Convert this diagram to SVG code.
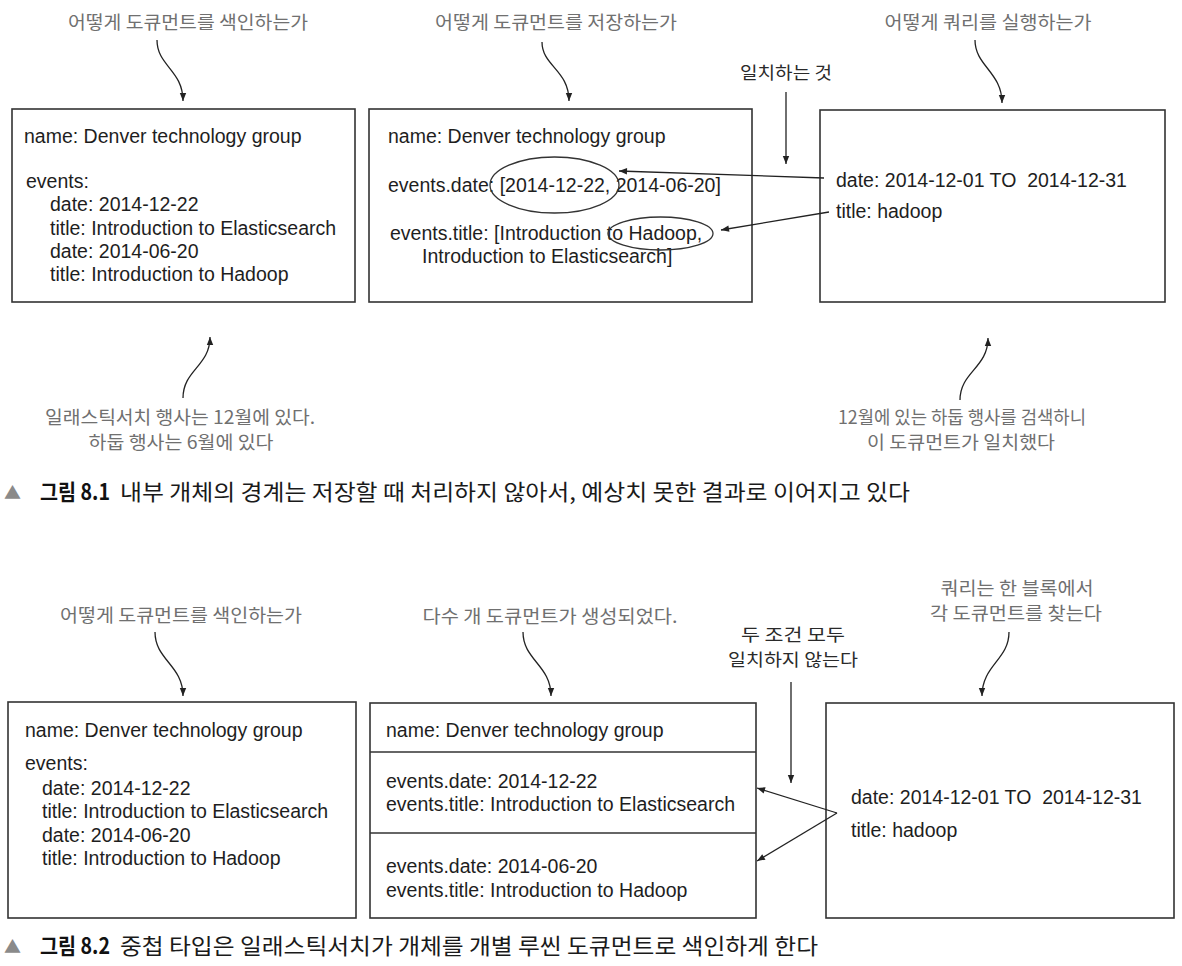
<svg xmlns="http://www.w3.org/2000/svg" width="1182" height="966" viewBox="0 0 1182 966">
<defs>
<style>
.bg{fill:#ffffff}
.box{fill:#ffffff;stroke:#333;stroke-width:1.6}
.div{stroke:#333;stroke-width:1.6;fill:none}
.t{font-family:"Liberation Sans",Arial,sans-serif;font-size:19.5px;fill:#1e1e1e}
.note{font-family:"Noto Sans CJK KR","Noto Sans",sans-serif;font-size:18px;fill:#707070;text-anchor:middle}
.dark{font-family:"Noto Sans CJK KR","Noto Sans",sans-serif;font-size:17px;fill:#2a2a2a;text-anchor:middle}
.cap{font-family:"Noto Sans CJK KR","Noto Sans",sans-serif;font-size:22px;fill:#1a1a1a}
.capb{font-family:"Noto Sans CJK KR","Noto Sans",sans-serif;font-size:22px;font-weight:bold;fill:#111}
.tri{font-family:"Noto Sans CJK KR","DejaVu Sans",sans-serif;font-size:17px;fill:#8a8a8a}
.ln{fill:none;stroke:#222;stroke-width:1.3}
.ell{fill:none;stroke:#333;stroke-width:1.3}
</style>
<marker id="ah" viewBox="0 0 10 10" refX="10" refY="5" markerWidth="10" markerHeight="8" markerUnits="userSpaceOnUse" orient="auto">
<path d="M0,1 L10,5 L0,9 z" fill="#222"/>
</marker>
</defs>
<rect class="bg" x="0" y="0" width="1182" height="966"/>

<!-- Figure 8.1 -->
<g id="fig1-note-index">
<text class="note" x="188" y="29" textLength="240" lengthAdjust="spacingAndGlyphs">어떻게 도큐먼트를 색인하는가</text>
</g>
<g id="fig1-note-store">
<text class="note" x="556" y="29" textLength="242" lengthAdjust="spacingAndGlyphs">어떻게 도큐먼트를 저장하는가</text>
</g>
<g id="fig1-note-query">
<text class="note" x="988" y="29" textLength="207" lengthAdjust="spacingAndGlyphs">어떻게 쿼리를 실행하는가</text>
</g>
<g id="fig1-note-match">
<text class="dark" x="786" y="79" textLength="92" lengthAdjust="spacingAndGlyphs">일치하는 것</text>
</g>

<g id="fig1-doc">
<rect class="box" x="12" y="109" width="343" height="193"/>
<text class="t" x="24" y="143">name: Denver technology group</text>
<text class="t" x="26" y="188">events:</text>
<text class="t" x="50" y="211">date: 2014-12-22</text>
<text class="t" x="50" y="235">title: Introduction to Elasticsearch</text>
<text class="t" x="50" y="258">date: 2014-06-20</text>
<text class="t" x="50" y="281">title: Introduction to Hadoop</text>
</g>

<g id="fig1-stored">
<rect class="box" x="369" y="109" width="383" height="193"/>
<text class="t" x="388" y="143">name: Denver technology group</text>
<text class="t" x="388" y="192">events.date: [2014-12-22, 2014-06-20]</text>
<text class="t" x="390" y="240">events.title: [Introduction to Hadoop,</text>
<text class="t" x="422" y="263">Introduction to Elasticsearch]</text>
<ellipse class="ell" cx="554.5" cy="185" rx="64.5" ry="28"/>
<ellipse class="ell" cx="660.5" cy="233.5" rx="52.5" ry="16.5"/>
</g>

<g id="fig1-query">
<rect class="box" x="820" y="110" width="345" height="192"/>
<text class="t" x="836" y="187" xml:space="preserve">date: 2014-12-01 TO  2014-12-31</text>
<text class="t" x="836" y="218">title: hadoop</text>
</g>

<g id="fig1-note-left">
<text class="note" x="180" y="424" textLength="270" lengthAdjust="spacingAndGlyphs">일래스틱서치 행사는 12월에 있다.</text>
<text class="note" x="181" y="449" textLength="185" lengthAdjust="spacingAndGlyphs">하둡 행사는 6월에 있다</text>
</g>
<g id="fig1-note-right">
<text class="note" x="962" y="424" textLength="248" lengthAdjust="spacingAndGlyphs">12월에 있는 하둡 행사를 검색하니</text>
<text class="note" x="961" y="449" textLength="188" lengthAdjust="spacingAndGlyphs">이 도큐먼트가 일치했다</text>
</g>

<g id="fig1-caption">
<text class="tri" x="4" y="499">▲</text>
<text class="capb" x="40" y="500" textLength="70" lengthAdjust="spacingAndGlyphs">그림 8.1</text>
<text class="cap" x="120" y="500" textLength="790" lengthAdjust="spacingAndGlyphs">내부 개체의 경계는 저장할 때 처리하지 않아서, 예상치 못한 결과로 이어지고 있다</text>
</g>

<!-- Figure 8.2 -->
<g id="fig2-note-index">
<text class="note" x="181" y="622" textLength="242" lengthAdjust="spacingAndGlyphs">어떻게 도큐먼트를 색인하는가</text>
</g>
<g id="fig2-note-docs">
<text class="note" x="550" y="623" textLength="255" lengthAdjust="spacingAndGlyphs">다수 개 도큐먼트가 생성되었다.</text>
</g>
<g id="fig2-note-query">
<text class="note" x="1017" y="595" textLength="153" lengthAdjust="spacingAndGlyphs">쿼리는 한 블록에서</text>
<text class="note" x="1016" y="620" textLength="172" lengthAdjust="spacingAndGlyphs">각 도큐먼트를 찾는다</text>
</g>
<g id="fig2-note-nomatch">
<text class="dark" x="793" y="641" textLength="104" lengthAdjust="spacingAndGlyphs">두 조건 모두</text>
<text class="dark" x="793" y="666" textLength="130" lengthAdjust="spacingAndGlyphs">일치하지 않는다</text>
</g>

<g id="fig2-doc">
<rect class="box" x="8" y="702" width="348" height="216"/>
<text class="t" x="25" y="737">name: Denver technology group</text>
<text class="t" x="25" y="770">events:</text>
<text class="t" x="42" y="795">date: 2014-12-22</text>
<text class="t" x="42" y="818">title: Introduction to Elasticsearch</text>
<text class="t" x="42" y="842">date: 2014-06-20</text>
<text class="t" x="42" y="865">title: Introduction to Hadoop</text>
</g>

<g id="fig2-stored">
<rect class="box" x="370" y="703" width="386" height="215"/>
<line class="div" x1="370" y1="752" x2="756" y2="752"/>
<line class="div" x1="370" y1="833" x2="756" y2="833"/>
<text class="t" x="386" y="737">name: Denver technology group</text>
<text class="t" x="386" y="788">events.date: 2014-12-22</text>
<text class="t" x="386" y="811">events.title: Introduction to Elasticsearch</text>
<text class="t" x="386" y="873">events.date: 2014-06-20</text>
<text class="t" x="386" y="897">events.title: Introduction to Hadoop</text>
</g>

<g id="fig2-query">
<rect class="box" x="826" y="703" width="348" height="215"/>
<text class="t" x="851" y="804" xml:space="preserve">date: 2014-12-01 TO  2014-12-31</text>
<text class="t" x="851" y="837">title: hadoop</text>
</g>

<g id="fig2-caption">
<text class="tri" x="4" y="953">▲</text>
<text class="capb" x="40" y="954" textLength="70" lengthAdjust="spacingAndGlyphs">그림 8.2</text>
<text class="cap" x="120" y="954" textLength="698" lengthAdjust="spacingAndGlyphs">중첩 타입은 일래스틱서치가 개체를 개별 루씬 도큐먼트로 색인하게 한다</text>
</g>

<g id="connectors">
<!-- figure 8.1 -->
<path class="ln" d="M157,40 C157,66 183,70 183,101" marker-end="url(#ah)"/>
<path class="ln" d="M542,42 C542,66 569,70 569,101" marker-end="url(#ah)"/>
<path class="ln" d="M975,40 C975,66 1002,72 1002,103" marker-end="url(#ah)"/>
<path class="ln" d="M786,92 L786,164" marker-end="url(#ah)"/>
<path class="ln" d="M824,178 L619,171" marker-end="url(#ah)"/>
<path class="ln" d="M829,212 L721,230" marker-end="url(#ah)"/>
<path class="ln" d="M183,398 C183,370 210,366 210,337" marker-end="url(#ah)"/>
<path class="ln" d="M960,400 C960,372 988,368 988,338" marker-end="url(#ah)"/>
<!-- figure 8.2 -->
<path class="ln" d="M155,632 C155,660 183,665 183,696" marker-end="url(#ah)"/>
<path class="ln" d="M523,632 C523,660 551,665 551,696" marker-end="url(#ah)"/>
<path class="ln" d="M1009,632 C1009,660 982,665 982,696" marker-end="url(#ah)"/>
<path class="ln" d="M791,682 L791,783" marker-end="url(#ah)"/>
<path class="ln" d="M837,813 L757,788" marker-end="url(#ah)"/>
<path class="ln" d="M837,813 L757,861" marker-end="url(#ah)"/>
</g>
</svg>
